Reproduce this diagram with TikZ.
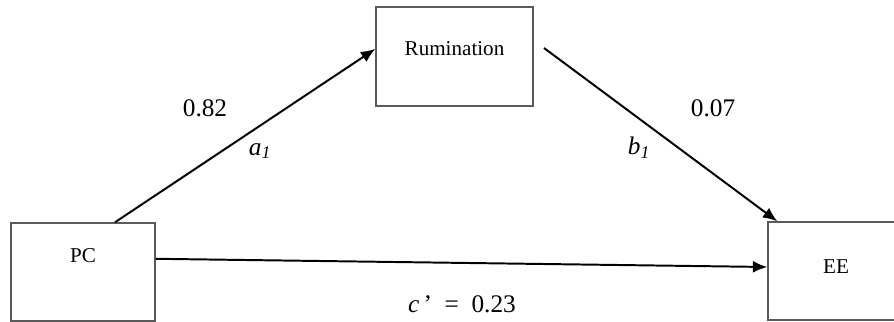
\documentclass[tikz,border=0pt]{standalone}
\usepackage{fontspec}
\setmainfont{Liberation Serif}
\usetikzlibrary{arrows.meta}
\definecolor{Frame}{HTML}{5A5A5A}

\begin{document}
\begin{tikzpicture}[x=0.025cm, y=-0.025cm, >=Latex,
    box/.style={draw=Frame, line width=1pt, font=\fontsize{15}{18}\selectfont},
    effect/.style={-{Latex[length=3.6mm, width=3mm]}, line width=1.4pt},
    coef/.style={font=\fontsize{18}{22}\selectfont}]
    \clip (0,0) rectangle (894,322);
    % variables
    \node[box, minimum width=3.6cm, minimum height=2.45cm, label={[yshift=0.4cm, font=\fontsize{15}{18}\selectfont]center:PC}] (pc) at (83,272) {};
    \node[box, minimum width=3.925cm, minimum height=2.475cm, label={[yshift=0.19cm, font=\fontsize{15}{18}\selectfont]center:Rumination}] (rum) at (454.5,56.5) {};
    \node[box, minimum width=3.6cm, minimum height=2.45cm, label={[xshift=-0.1cm, yshift=0.1cm, font=\fontsize{15}{18}\selectfont]center:EE}] (ee) at (840,271) {};
    % paths
    \coordinate (bstart) at (544,48);
    \draw[effect] ([xshift=0.8cm]pc.north) -- ([yshift=0.19cm]rum.west);
    \draw[effect] (bstart) -- ([xshift=0.25cm]ee.north west);
    \draw[effect] ([yshift=0.33cm]pc.east) -- ([yshift=0.1cm]ee.west);
    % coefficients
    \node[coef] (wa) at (205,108) {0.82};
    \node[coef] (la) at (260,151) {\textit{a\textsubscript{1}}};
    \node[coef] (wb) at (713,108) {0.07};
    \node[coef] (lb) at (639,148) {\textit{b\textsubscript{1}}};
    \node[coef] (wc) at (462,304) {\textit{c}\,’~ = ~0.23};
\end{tikzpicture}
\end{document}
